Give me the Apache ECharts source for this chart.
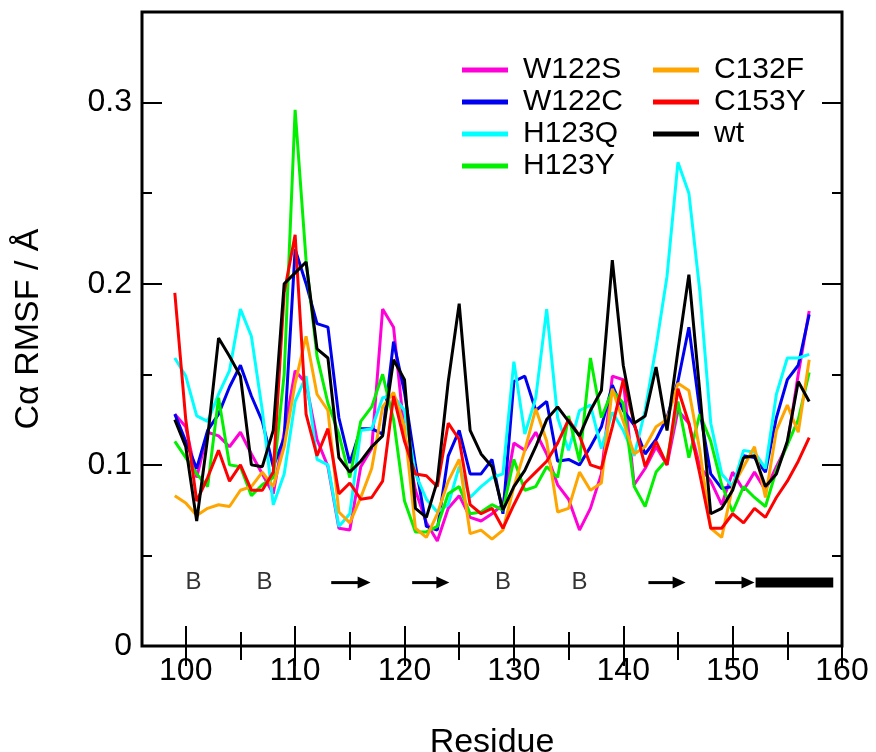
<!DOCTYPE html>
<html>
<head>
<meta charset="utf-8">
<script src="https://cdn.jsdelivr.net/npm/echarts@6/dist/echarts.min.js"></script>
<style>
html,body{margin:0;padding:0;background:#fff;}
#chart{width:876px;height:752px;}
</style>
</head>
<body>
<div id="chart"></div>
<script>
const residues = [99,100,101,102,103,104,105,106,107,108,109,110,111,112,113,114,115,116,117,118,119,120,121,122,123,124,125,126,127,128,129,130,131,132,133,134,135,136,137,138,139,140,141,142,143,144,145,146,147,148,149,150,151,152,153,154,155,156,157];

const W122S = [0.128,0.121,0.093,0.118,0.116,0.110,0.118,0.106,0.095,0.084,0.118,0.152,0.145,0.114,0.099,0.065,0.064,0.099,0.109,0.186,0.176,0.117,0.086,0.068,0.058,0.076,0.083,0.071,0.069,0.073,0.078,0.112,0.108,0.118,0.106,0.089,0.081,0.064,0.076,0.095,0.149,0.147,0.089,0.098,0.110,0.100,0.130,0.123,0.099,0.091,0.078,0.096,0.086,0.096,0.086,0.099,0.111,0.150,0.185];
const W122C = [0.128,0.113,0.098,0.119,0.128,0.143,0.155,0.138,0.124,0.099,0.115,0.219,0.200,0.178,0.176,0.126,0.101,0.120,0.120,0.117,0.168,0.140,0.100,0.066,0.064,0.105,0.119,0.095,0.095,0.103,0.073,0.146,0.149,0.130,0.135,0.102,0.103,0.100,0.110,0.121,0.144,0.130,0.122,0.106,0.114,0.126,0.146,0.176,0.130,0.095,0.087,0.088,0.105,0.104,0.096,0.126,0.147,0.155,0.183];
const H123Q = [0.159,0.149,0.127,0.124,0.139,0.152,0.186,0.171,0.130,0.078,0.095,0.135,0.149,0.103,0.100,0.066,0.073,0.119,0.120,0.137,0.138,0.130,0.095,0.081,0.074,0.078,0.099,0.082,0.088,0.093,0.095,0.157,0.117,0.137,0.186,0.126,0.108,0.130,0.133,0.109,0.129,0.119,0.105,0.130,0.165,0.204,0.267,0.250,0.196,0.123,0.095,0.088,0.108,0.107,0.098,0.139,0.159,0.159,0.161];
const H123Y = [0.113,0.104,0.095,0.088,0.137,0.100,0.099,0.083,0.089,0.093,0.150,0.296,0.213,0.160,0.134,0.117,0.093,0.124,0.132,0.150,0.125,0.080,0.063,0.063,0.066,0.084,0.088,0.073,0.074,0.078,0.075,0.103,0.086,0.088,0.099,0.093,0.127,0.102,0.159,0.126,0.141,0.134,0.088,0.077,0.096,0.103,0.135,0.104,0.128,0.113,0.089,0.074,0.088,0.082,0.077,0.097,0.111,0.125,0.151];
const C132F = [0.083,0.079,0.072,0.076,0.078,0.077,0.086,0.088,0.096,0.088,0.110,0.145,0.171,0.139,0.130,0.074,0.068,0.082,0.098,0.132,0.140,0.121,0.065,0.060,0.073,0.091,0.103,0.062,0.064,0.059,0.064,0.088,0.108,0.131,0.113,0.074,0.076,0.096,0.086,0.090,0.142,0.124,0.106,0.110,0.121,0.125,0.145,0.141,0.108,0.065,0.060,0.088,0.099,0.110,0.082,0.119,0.133,0.118,0.158];
const C153Y = [0.195,0.125,0.080,0.093,0.108,0.091,0.100,0.086,0.086,0.096,0.195,0.227,0.128,0.105,0.120,0.084,0.090,0.081,0.082,0.091,0.138,0.113,0.095,0.094,0.088,0.123,0.114,0.078,0.073,0.076,0.065,0.078,0.090,0.096,0.102,0.112,0.125,0.116,0.100,0.098,0.121,0.147,0.123,0.099,0.113,0.100,0.142,0.123,0.095,0.065,0.065,0.073,0.068,0.076,0.071,0.082,0.091,0.102,0.115];
const WT = [0.125,0.110,0.069,0.115,0.170,0.160,0.149,0.100,0.099,0.119,0.200,0.206,0.212,0.164,0.159,0.104,0.096,0.102,0.110,0.116,0.158,0.147,0.076,0.071,0.091,0.146,0.189,0.119,0.106,0.099,0.075,0.088,0.097,0.110,0.125,0.132,0.124,0.116,0.130,0.141,0.213,0.155,0.123,0.127,0.154,0.119,0.163,0.205,0.140,0.073,0.076,0.086,0.104,0.105,0.088,0.095,0.113,0.146,0.135];

const seriesNames = ['W122S','W122C','H123Q','H123Y','C132F','C153Y','wt'];
const seriesColors = ['#ff00d8','#0000f0','#00ffff','#00f000','#ffa500','#ff0000','#000000'];
const seriesValues = [W122S, W122C, H123Q, H123Y, C132F, C153Y, WT];

const xMajorTicks = [100,110,120,130,140,150,160];
const xMinorTicks = [105,115,125,135,145,155];
const yMajorTicks = [0,0.1,0.2,0.3];
const yMinorTicks = [0.05,0.15,0.25];

// secondary-structure annotations (residue positions)
const annoY = 0.035;
const bridgeLabels = [100.7, 107.2, 129.0, 136.0];
const strandStarts = [113.3, 120.7, 142.3, 148.4];
const strandEnds = [116.9, 124.1, 145.7, 152.0];
const helixStart = 152.1;
const helixEnd = 159.2;

const FONT = 'Liberation Sans, Arial, Helvetica, sans-serif';

function xAxisDef(pos, ticks, len, labels) {
  return {
    type: 'value', position: pos, min: 96, max: 160,
    axisLine: {show: false},
    splitLine: {show: false},
    axisTick: {show: true, inside: true, length: len, customValues: ticks, lineStyle: {color: '#000', width: 2}},
    axisLabel: labels ? {show: true, customValues: ticks, fontSize: 32, color: '#000', fontFamily: FONT, margin: 9} : {show: false, customValues: ticks}
  };
}
function yAxisDef(pos, ticks, len, labels) {
  return {
    type: 'value', position: pos, min: 0, max: 0.35,
    axisLine: {show: false},
    splitLine: {show: false},
    axisTick: {show: true, inside: true, length: len, customValues: ticks, lineStyle: {color: '#000', width: 2}},
    axisLabel: labels ? {show: true, customValues: ticks, fontSize: 32, color: '#000', fontFamily: FONT, margin: 10,
      formatter: v => String(Math.round(v * 100) / 100)} : {show: false, customValues: ticks}
  };
}

const xAxes = [
  xAxisDef('bottom', xMajorTicks, 20, true),
  xAxisDef('bottom', xMinorTicks, 14, false),
  xAxisDef('top', xMajorTicks, 20, false),
  xAxisDef('top', xMinorTicks, 14, false)
];
Object.assign(xAxes[0], {name: 'Residue', nameLocation: 'middle', nameGap: 80,
  nameTextStyle: {fontSize: 34, color: '#000', fontFamily: FONT}});

const yAxes = [
  yAxisDef('left', yMajorTicks, 20, true),
  yAxisDef('left', yMinorTicks, 10, false),
  yAxisDef('right', yMajorTicks, 20, false),
  yAxisDef('right', yMinorTicks, 10, false)
];
Object.assign(yAxes[0], {name: 'C\u03b1 RMSF / \u00c5', nameLocation: 'middle', nameGap: 96, nameRotate: 90,
  nameTextStyle: {fontSize: 34, color: '#000', fontFamily: FONT}});

const lineSeries = seriesNames.map((name, k) => ({
  name: name,
  type: 'line',
  xAxisIndex: 0, yAxisIndex: 0,
  data: residues.map((r, i) => [r, seriesValues[k][i]]),
  symbol: 'none',
  lineStyle: {color: seriesColors[k], width: 3},
  itemStyle: {color: seriesColors[k]},
  z: 2 + k,
  animation: false
}));

const bridgeSeries = {
  type: 'scatter', xAxisIndex: 0, yAxisIndex: 0,
  data: bridgeLabels.map(x => [x, annoY]),
  symbolSize: 1, itemStyle: {color: 'rgba(0,0,0,0)'},
  label: {show: true, position: 'inside', formatter: 'B', fontSize: 24, color: '#000', fontFamily: FONT},
  silent: true, animation: false, z: 20
};

const strandSeries = {
  type: 'custom', xAxisIndex: 0, yAxisIndex: 0,
  data: strandStarts.map((s, i) => [s, strandEnds[i], annoY]),
  encode: {x: [0, 1], y: 2},
  renderItem: function (params, api) {
    const p0 = api.coord([api.value(0), api.value(2)]);
    const p1 = api.coord([api.value(1), api.value(2)]);
    const head = 13, half = 6;
    return {
      type: 'group',
      children: [
        {type: 'line', shape: {x1: p0[0], y1: p0[1], x2: p1[0] - head + 1, y2: p1[1]}, style: {stroke: '#000', lineWidth: 3}},
        {type: 'polygon', shape: {points: [[p1[0] - head, p1[1] - half], [p1[0], p1[1]], [p1[0] - head, p1[1] + half]]}, style: {fill: '#000'}}
      ]
    };
  },
  silent: true, animation: false, z: 20
};

const helixSeries = {
  type: 'custom', xAxisIndex: 0, yAxisIndex: 0,
  data: [[helixStart, helixEnd, annoY]],
  encode: {x: [0, 1], y: 2},
  renderItem: function (params, api) {
    const p0 = api.coord([api.value(0), api.value(2)]);
    const p1 = api.coord([api.value(1), api.value(2)]);
    return {type: 'rect', shape: {x: p0[0], y: p0[1] - 5, width: p1[0] - p0[0], height: 10}, style: {fill: '#000'}};
  },
  silent: true, animation: false, z: 20
};

const legendCommon = {
  orient: 'vertical', icon: 'rect', itemWidth: 46, itemHeight: 5, itemGap: 0,
  textStyle: {fontSize: 30, color: '#000', fontFamily: FONT, lineHeight: 32, padding: [0, 0, 0, 10]},
  inactiveColor: '#ccc', selectedMode: false
};

const option = {
  backgroundColor: '#fff',
  animation: false,
  grid: {left: 142, right: 34, top: 12, bottom: 106, containLabel: false, outerBoundsMode: 'none',
    show: true, borderColor: '#000', borderWidth: 3, backgroundColor: 'transparent'},
  xAxis: xAxes,
  yAxis: yAxes,
  legend: [
    Object.assign({}, legendCommon, {data: seriesNames.slice(0, 4), left: 457, top: 49}),
    Object.assign({}, legendCommon, {data: seriesNames.slice(4), left: 648, top: 49})
  ],
  series: lineSeries.concat([bridgeSeries, strandSeries, helixSeries])
};

const chart = echarts.init(document.getElementById('chart'), null, {renderer: 'canvas'});
chart.setOption(option);
</script>
</body>
</html>
